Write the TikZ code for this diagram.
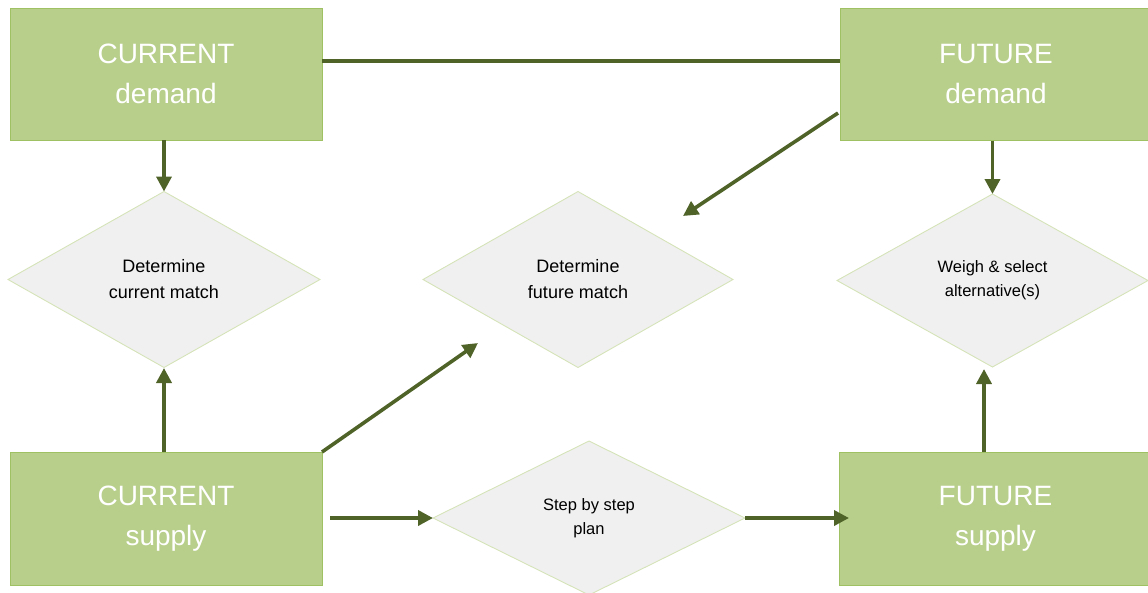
\documentclass[tikz,border=0pt]{standalone}
\usepackage{fontspec}
\setmainfont{Liberation Sans}
\usetikzlibrary{shapes.geometric,arrows.meta}
\definecolor{boxfill}{HTML}{B8CF8B}
\definecolor{boxline}{HTML}{9FC063}
\definecolor{flow}{HTML}{4F6228}
\definecolor{decfill}{HTML}{F0F0F0}
\definecolor{decline}{HTML}{D5E3B8}
\begin{document}
\begin{tikzpicture}[x=1pt,y=-1pt,
  block/.style={rectangle,draw=boxline,line width=1pt,fill=boxfill,text=white,
    minimum width=312pt,minimum height=132pt,outer sep=0pt,align=center,
    font=\fontsize{28}{40}\selectfont},
  decision/.style={diamond,draw=decline,line width=0.9pt,fill=decfill,text=black,
    minimum width=312pt,minimum height=176pt,inner sep=0pt,outer sep=0pt,align=center},
  bigtext/.style={font=\fontsize{18}{26}\selectfont},
  smalltext/.style={font=\fontsize{16.5}{24}\selectfont},
  arr/.style={draw=flow,line width=3.6pt,-{Triangle[length=15pt,width=15pt]}},
  link/.style={draw=flow,line width=3.6pt}]
\useasboundingbox (0,0) rectangle (1148,592);
\clip (0,0) rectangle (1148,592);

% blocks
\node[block] (cd) at (166,74) {CURRENT\\demand};
\node[block] (fd) at (996,74.5) {FUTURE\\demand};
\node[block,minimum height=133pt] (cs) at (166,518.5) {CURRENT\\supply};
\node[block,minimum height=133pt] (fs) at (995.5,518.5) {FUTURE\\supply};

% decisions
\node[decision,bigtext] (cm) at (164,279.5) {Determine\\current match};
\node[decision,bigtext,minimum width=310pt] (fm) at (578,279.5) {Determine\\future match};
\node[decision,smalltext,minimum width=311pt,minimum height=173pt] (wm) at (992.5,280.5) {Weigh \& select\\alternative(s)};
\node[decision,smalltext,minimum width=312pt,minimum height=154pt] (sp) at (589,518) {Step by step\\plan};

% free ends of connectors
\coordinate (fdtail) at (838,113);
\coordinate (fmtopin) at (683,216);
\coordinate (fmlowin) at (478,343);
\coordinate (cmlowin) at (164,368);
\coordinate (cstail) at (330,518);
\coordinate (fsin) at (849,518);
\coordinate (fstail) at (984,452);
\coordinate (wmlowin) at (984,369);

% connectors
\draw[link] ([yshift=13pt]cd.east) -- ([yshift=13pt]cd.east -| fd.west);
\draw[arr] (cm.north |- cd.south) -- (cm.north);
\draw[arr] (wm.north |- fd.south) -- (wm.north);
\draw[arr] (fdtail) -- (fmtopin);
\draw[arr] (cs.north east) -- (fmlowin);
\draw[arr] (cmlowin |- cs.north) -- (cmlowin);
\draw[arr] (cstail) -- (sp.west);
\draw[arr] (sp.east) -- (fsin);
\draw[arr] (fstail) -- (wmlowin);
\end{tikzpicture}
\end{document}
